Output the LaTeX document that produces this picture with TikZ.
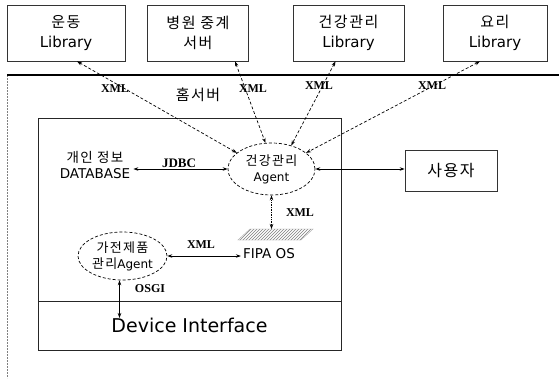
\documentclass[tikz,border=0pt]{standalone}
\usepackage{fontspec}
\setmainfont{Liberation Serif}
\newfontfamily\kr[LetterSpace=10]{Noto Sans CJK KR}
\newfontfamily\lat{DejaVu Sans}
\usetikzlibrary{arrows.meta,patterns,shapes.geometric}

\begin{document}
\begin{tikzpicture}[x=1pt,y=-1pt,
  libbox/.style={draw=black!80,line width=0.7pt,minimum height=56pt,inner sep=0pt,
    align=center,font=\fontsize{15}{20}\selectfont},
  region/.style={draw=black!85,line width=0.8pt,inner sep=0pt},
  agent/.style={ellipse,draw,dash pattern=on 3pt off 2pt,line width=0.7pt,inner sep=0pt,
    align=center,font=\fontsize{13}{16}\selectfont},
  lbl/.style={font=\fontsize{12}{12}\selectfont\bfseries,inner sep=1pt},
  link/.style={{Stealth[length=5pt,width=3.5pt]}-{Stealth[length=5pt,width=3.5pt]},line width=0.7pt},
  xmllink/.style={link,dash pattern=on 3pt off 2pt},
]
\useasboundingbox (0,0) rectangle (559,378);
\fill[white] (0,0) rectangle (559,378);

% external services along the top
\node[libbox,minimum width=118pt] (lib1) at (66,33) {{\kr 운동}\\{\lat Library}};
\node[libbox,minimum width=101pt] (hosp) at (198,33) {{\kr 병원 중계}\\{\kr 서버}};
\node[libbox,minimum width=111pt] (lib3) at (348.5,33) {{\kr 건강관리}\\{\lat Library}};
\node[libbox,minimum width=104pt] (lib4) at (495,33) {{\kr 요리}\\{\lat Library}};

% home server frame
\draw[gray,line width=0.5pt,dash pattern=on 2pt off 1pt] (7,75) -- (7,378);
\draw[line width=1.1pt] (7,75) -- (559,75);
\node[font=\kr\fontsize{15}{15}\selectfont] (homesrv) at (198,95) {홈서버};

% inner platform and device layer
\node[region,minimum width=303pt,minimum height=183pt] (platform) at (189.5,209.5) {};
\node[region,minimum width=303pt,minimum height=49pt,font=\lat\fontsize{19}{19}\selectfont]
  (dev) at (189.5,325.5) {\raisebox{-1pt}{Device Interface}};

% components
\node[align=center,inner sep=3pt,font=\fontsize{13.5}{16}\selectfont] (db) at (95,165)
  {{\kr 개인 정보}\\{\lat DATABASE}};
\node[agent,minimum width=87pt,minimum height=52pt] (agent) at (271.5,169)
  {{\kr 건강관리}\\{\lat\fontsize{12}{12}\selectfont Agent}};
\node[draw=black!80,line width=0.7pt,minimum width=92pt,minimum height=41pt,
  font=\kr\fontsize{16}{16}\selectfont] (user) at (451,170.5) {사용자};
\node[agent,minimum width=89pt,minimum height=48pt] (appl) at (122.5,256)
  {{\kr 가전제품}\\{\kr 관리}{\lat\fontsize{12}{12}\selectfont Agent}};
\node[font=\lat\fontsize{13.5}{13.5}\selectfont,inner sep=2pt] (fipa) at (269,254) {FIPA OS};

% FIPA OS platform bar
\filldraw[pattern=north east lines,pattern color=gray,draw=gray!70,line width=0.4pt]
  (250,229) -- (313,229) -- (301,240) -- (238,240) -- cycle;
\coordinate (bar) at (271.5,229);
\coordinate (devtop) at (119.5,318);

% connectors
\draw[xmllink] ([xshift=11pt]lib1.south) -- (agent.155);
\draw[xmllink] ([xshift=37pt]hosp.south) -- (agent.103);
\draw[xmllink] ([xshift=-13pt]lib3.south) -- (agent.50);
\draw[xmllink] ([xshift=-15pt]lib4.south) -- (agent.25);
\draw[link] (agent.west) -- (agent.west -| db.east);
\draw[link] (agent.east) -- (agent.east -| user.west);
\draw[link,densely dotted] (agent.south) -- (bar);
\draw[link] (appl.east) -- (appl.east -| fipa.west);
\draw[link] ([xshift=-3pt]appl.south) -- (devtop);

% connector labels
\node[lbl] (x1) at (115,89) {XML};
\node[lbl] (x2) at (253,89) {XML};
\node[lbl] (x3) at (319,86) {XML};
\node[lbl] (x4) at (432,86) {XML};
\node[lbl,font=\fontsize{13}{13}\selectfont\bfseries] (jdbc) at (179,163) {JDBC};
\node[lbl] (x5) at (300,213) {XML};
\node[lbl] (x6) at (201,245) {XML};
\node[lbl] (osgi) at (150,289) {OSGI};
\end{tikzpicture}
\end{document}
